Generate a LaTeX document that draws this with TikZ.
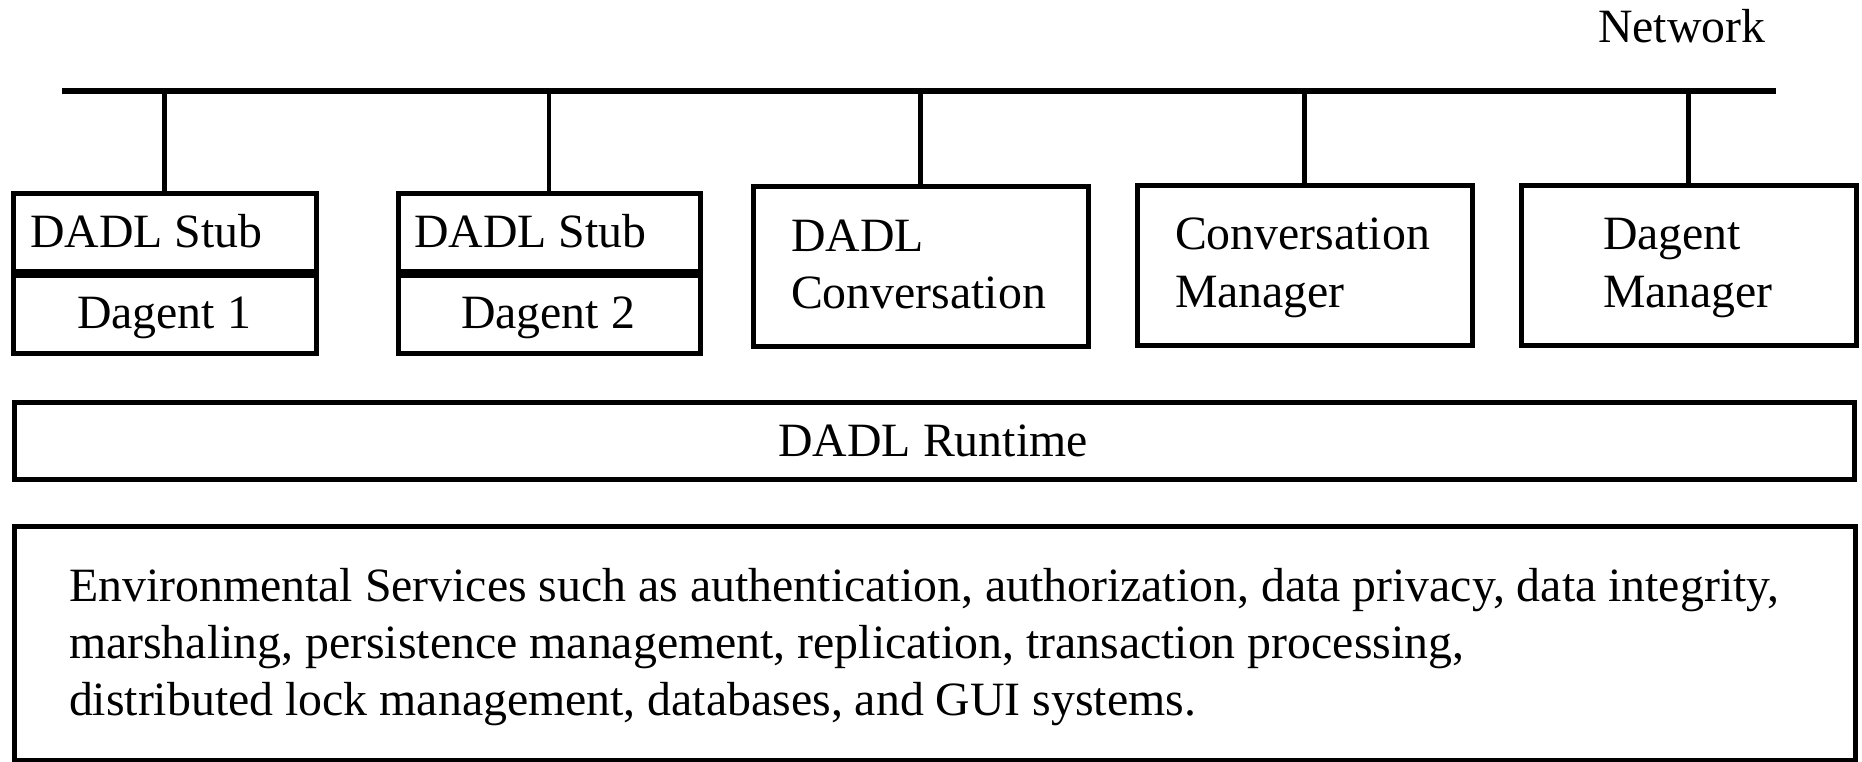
\documentclass[tikz,border=0pt]{standalone}
\usepackage{fontspec}
\setmainfont{Liberation Serif}
\begin{document}
\begin{tikzpicture}[x=1pt,y=-1pt,
  box/.style={draw=black,line width=5pt,inner sep=0pt,outer sep=0pt,fill=none},
  lbl/.style={inner sep=0pt,outer sep=0pt,font=\fontsize{47.8}{57}\selectfont},
  bus/.style={line width=5.2pt},
  drop/.style={line width=4.4pt}]
\useasboundingbox[fill=white] (0,0) rectangle (1862,762);

% network bus
\coordinate (busL) at (62,91);
\coordinate (busR) at (1776,91);
\draw[bus] (busL) -- (busR);
\node[lbl,anchor=base west] (net) at (1598,43) {Network};

% dagent 1 with its stub
\node[box,minimum width=303pt,minimum height=77pt] (stub1) at (164.5,232.5) {};
\node[box,minimum width=303pt,minimum height=78pt] (dag1) at (164.5,314.5) {};
\node[lbl,anchor=base west] (stub1t) at (30,247) {DADL Stub};
\node[lbl,anchor=base] (dag1t) at (164,328) {Dagent 1};

% dagent 2 with its stub
\node[box,minimum width=302pt,minimum height=77pt] (stub2) at (549,232.5) {};
\node[box,minimum width=302pt,minimum height=78pt] (dag2) at (549,314.5) {};
\node[lbl,anchor=base west] (stub2t) at (414,247) {DADL Stub};
\node[lbl,anchor=base] (dag2t) at (548,328) {Dagent 2};

% managers
\node[box,minimum width=335pt,minimum height=159pt] (conv) at (920.5,266.5) {};
\node[lbl,anchor=base west] (conv1) at (791,251) {DADL};
\node[lbl,anchor=base west] (conv2) at (791,308) {Conversation};

\node[box,minimum width=335pt,minimum height=159pt] (cmgr) at (1304.5,265.5) {};
\node[lbl,anchor=base west] (cmgr1) at (1175,249) {Conversation};
\node[lbl,anchor=base west] (cmgr2) at (1175,307) {Manager};

\node[box,minimum width=335pt,minimum height=159pt] (dmgr) at (1688.5,265.5) {};
\node[lbl,anchor=base west] (dmgr1) at (1603,249) {Dagent};
\node[lbl,anchor=base west] (dmgr2) at (1603,307) {Manager};

% drops from the bus
\foreach \b in {stub1,stub2,conv,cmgr,dmgr}
  \draw[drop] (\b.north) -- (\b.north |- busL);

% runtime layer
\node[box,minimum width=1840pt,minimum height=77pt] (rt) at (934,441) {};
\node[lbl,anchor=base] (rtt) at (933,456) {DADL Runtime};

% environmental services
\node[box,minimum width=1841pt,minimum height=234pt] (env) at (934.5,643) {};
\node[lbl,anchor=base west] (env1) at (69,601) {Environmental Services such as authentication, authorization, data privacy, data integrity,};
\node[lbl,anchor=base west] (env2) at (69,658) {marshaling, persistence management, replication, transaction processing,};
\node[lbl,anchor=base west] (env3) at (69,715) {distributed lock management, databases, and GUI systems.};
\end{tikzpicture}
\end{document}
